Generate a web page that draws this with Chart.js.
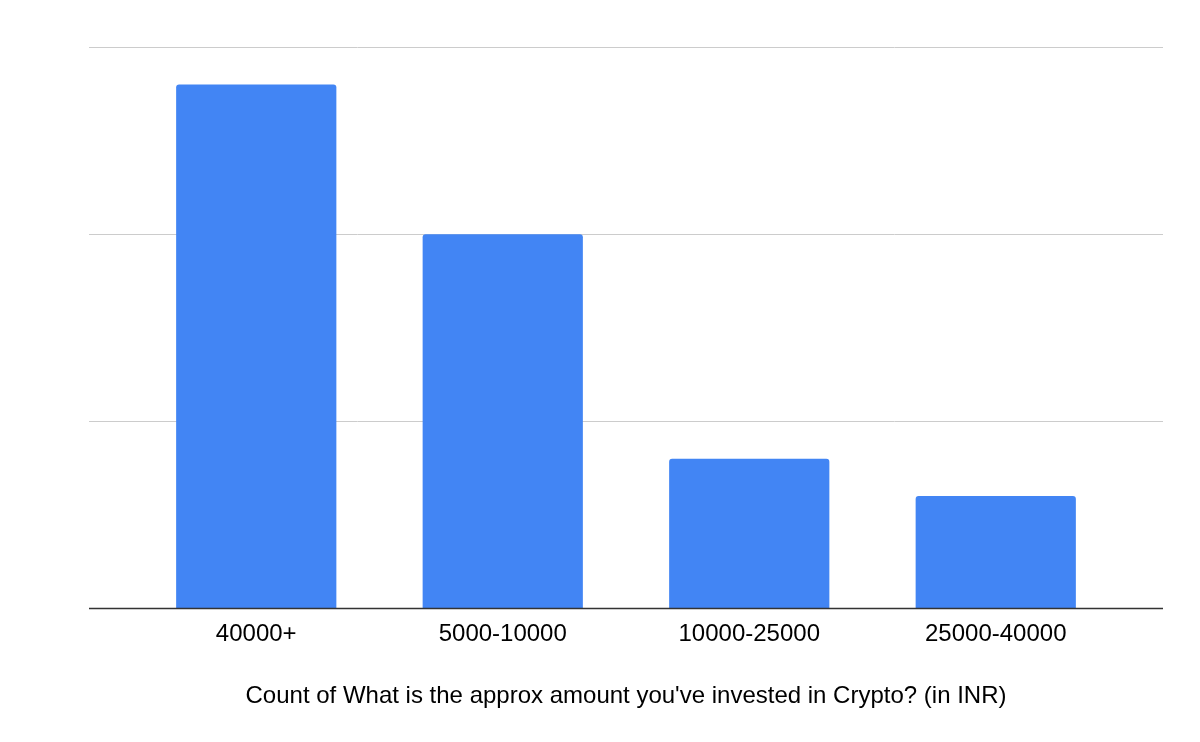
<!DOCTYPE html>
<html>
<head>
<meta charset="utf-8">
<script src="https://cdn.jsdelivr.net/npm/chart.js@4"></script>
<style>
  html, body { margin: 0; padding: 0; background: #fff; }
  #wrap { width: 1200px; height: 742px; }
</style>
</head>
<body>
<div id="wrap"><canvas id="myChart" width="1200" height="742"></canvas></div>
<script>
// Kategorier og verdier lest fra bildet
const categories = ["40000+", "5000-10000", "10000-25000", "25000-40000"];
const counts = [14, 10, 4, 3];
const gridTicks = [0, 5, 10, 15];

// Gridlinjene går litt utenfor kategoriområdet, så de tegnes selv
const wideGrid = {
  id: "wideGrid",
  beforeDatasetsDraw(chart) {
    const { ctx, chartArea, scales } = chart;
    const left = chartArea.left - 44;
    const right = chartArea.right + 44;
    ctx.save();
    gridTicks.forEach(v => {
      if (v === 0) return;
      const y = Math.round(scales.y.getPixelForValue(v)) + 0.5;
      ctx.strokeStyle = "#cccccc";
      ctx.lineWidth = 1;
      ctx.beginPath();
      ctx.moveTo(left, y);
      ctx.lineTo(right, y);
      ctx.stroke();
    });
    ctx.restore();
  },
  afterDatasetsDraw(chart) {
    const { ctx, chartArea, scales } = chart;
    const y = Math.round(scales.y.getPixelForValue(0)) + 0.5;
    ctx.save();
    ctx.strokeStyle = "#333333";
    ctx.lineWidth = 1.5;
    ctx.beginPath();
    ctx.moveTo(chartArea.left - 44, y);
    ctx.lineTo(chartArea.right + 44, y);
    ctx.stroke();
    ctx.restore();
  }
};

const ctx = document.getElementById("myChart").getContext("2d");

const chart = new Chart(ctx, {
  type: "bar",
  data: {
    labels: categories,
    datasets: [{
      label: "Count",
      data: counts,
      backgroundColor: "#4285f4",
      borderRadius: { topLeft: 3, topRight: 3 },
      borderSkipped: "bottom",
      barPercentage: 0.65,
      categoryPercentage: 1
    }]
  },
  options: {
    responsive: false,
    animation: false,
    layout: { padding: { left: 133, right: 81, top: 47, bottom: 31 } },
    plugins: {
      legend: { display: false },
      tooltip: { enabled: false }
    },
    scales: {
      x: {
        grid: { display: false, drawTicks: false },
        border: { display: false },
        ticks: {
          color: "#000",
          padding: 12,
          font: { family: "'Liberation Sans', Arial, sans-serif", size: 24 }
        },
        title: {
          display: true,
          text: "Count of What is the approx amount you've invested in Crypto? (in INR)",
          color: "#000",
          padding: { top: 21, bottom: 0 },
          font: { family: "'Liberation Sans', Arial, sans-serif", size: 24 }
        }
      },
      y: {
        min: 0,
        max: 15,
        display: false,
        ticks: { stepSize: 5 }
      }
    }
  },
  plugins: [wideGrid]
});
</script>
</body>
</html>
